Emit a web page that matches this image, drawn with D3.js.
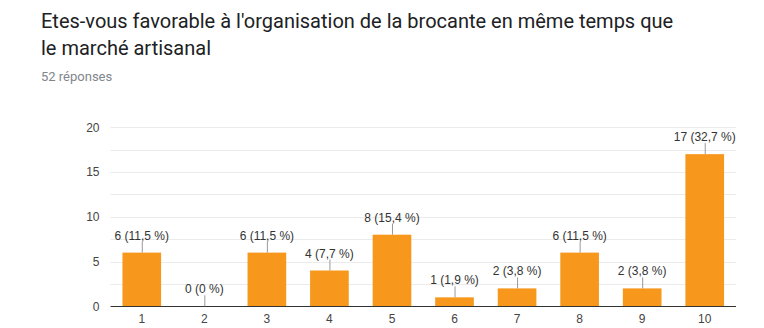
<!DOCTYPE html>
<html>
<head>
<meta charset="utf-8">
<script src="https://cdn.jsdelivr.net/npm/d3@7"></script>
<style>
  body { margin: 0; background: #fff; }
  svg { display: block; }
</style>
</head>
<body>
<svg id="chart" width="764" height="328"></svg>
<script>
// Answers on a 1–10 scale and how many people picked each one
const categories = ["1", "2", "3", "4", "5", "6", "7", "8", "9", "10"];
const counts = [6, 0, 6, 4, 8, 1, 2, 6, 2, 17];
const percentLabels = ["11,5", "0", "11,5", "7,7", "15,4", "1,9", "3,8", "11,5", "3,8", "32,7"];
const yTicks = [0, 5, 10, 15, 20];
const yGrid = [0, 2.5, 5, 7.5, 10, 12.5, 15, 17.5, 20];
const titleLines = [
  "Etes-vous favorable à l'organisation de la brocante en même temps que",
  "le marché artisanal"
];
const subtitle = "52 réponses";

const svg = d3.select("#chart");
const plot = { left: 110.5, right: 736, top: 127.3, bottom: 306.3 };

// Heading
svg.selectAll("text.title")
  .data(titleLines)
  .join("text")
  .attr("class", "title")
  .attr("x", 41)
  .attr("y", (d, i) => 28 + i * 27)
  .attr("font-family", "Roboto, sans-serif")
  .attr("font-size", 20)
  .attr("fill", "#202124")
  .text(d => d);

svg.append("text")
  .attr("x", 41)
  .attr("y", 81)
  .attr("font-family", "Roboto, sans-serif")
  .attr("font-size", 13)
  .attr("fill", "#80868b")
  .text(subtitle);

const x = d3.scaleBand()
  .domain(categories)
  .range([plot.left, plot.right])
  .paddingInner(0.382)
  .paddingOuter(0.191);

const y = d3.scaleLinear()
  .domain([0, 20])
  .range([plot.bottom, plot.top]);

const font = "Arial, 'Liberation Sans', sans-serif";

// Horizontal gridlines
svg.append("g")
  .selectAll("line")
  .data(yGrid.filter(v => v > 0))
  .join("line")
  .attr("x1", plot.left)
  .attr("x2", plot.right)
  .attr("y1", d => Math.round(y(d)) + 0.5)
  .attr("y2", d => Math.round(y(d)) + 0.5)
  .attr("stroke", "#ebebeb");

// Y axis labels
const yAxis = svg.append("g")
  .attr("transform", `translate(${plot.left - 11},0)`)
  .call(d3.axisLeft(y).tickValues(yTicks).tickSize(0).tickPadding(0));
yAxis.select(".domain").remove();
yAxis.selectAll("text")
  .attr("font-family", font)
  .attr("font-size", 12)
  .attr("fill", "#444");

// Bars
svg.append("g")
  .selectAll("rect")
  .data(counts)
  .join("rect")
  .attr("x", (d, i) => x(categories[i]))
  .attr("y", d => y(d))
  .attr("width", x.bandwidth())
  .attr("height", d => y(0) - y(d))
  .attr("fill", "#f7981d");

// Baseline
svg.append("line")
  .attr("x1", plot.left)
  .attr("x2", plot.right)
  .attr("y1", Math.round(y(0)) + 0.5)
  .attr("y2", Math.round(y(0)) + 0.5)
  .attr("stroke", "#333");

// X axis labels
const xAxis = svg.append("g")
  .attr("transform", `translate(0,${y(0) + 8})`)
  .call(d3.axisBottom(x).tickSize(0).tickPadding(0));
xAxis.select(".domain").remove();
xAxis.selectAll("text")
  .attr("font-family", font)
  .attr("font-size", 12)
  .attr("fill", "#444");

// Value annotations with leader lines
const ann = svg.append("g")
  .selectAll("g")
  .data(counts)
  .join("g")
  .attr("transform", (d, i) => `translate(${x(categories[i]) + x.bandwidth() / 2},${y(d)})`);

ann.append("line")
  .attr("x1", 0.5).attr("x2", 0.5)
  .attr("y1", 0).attr("y2", -11)
  .attr("stroke", "#999");

ann.append("text")
  .attr("y", -13)
  .attr("text-anchor", "middle")
  .attr("font-family", font)
  .attr("font-size", 12)
  .attr("fill", "#333")
  .text((d, i) => `${d} (${percentLabels[i]} %)`);
</script>
</body>
</html>
